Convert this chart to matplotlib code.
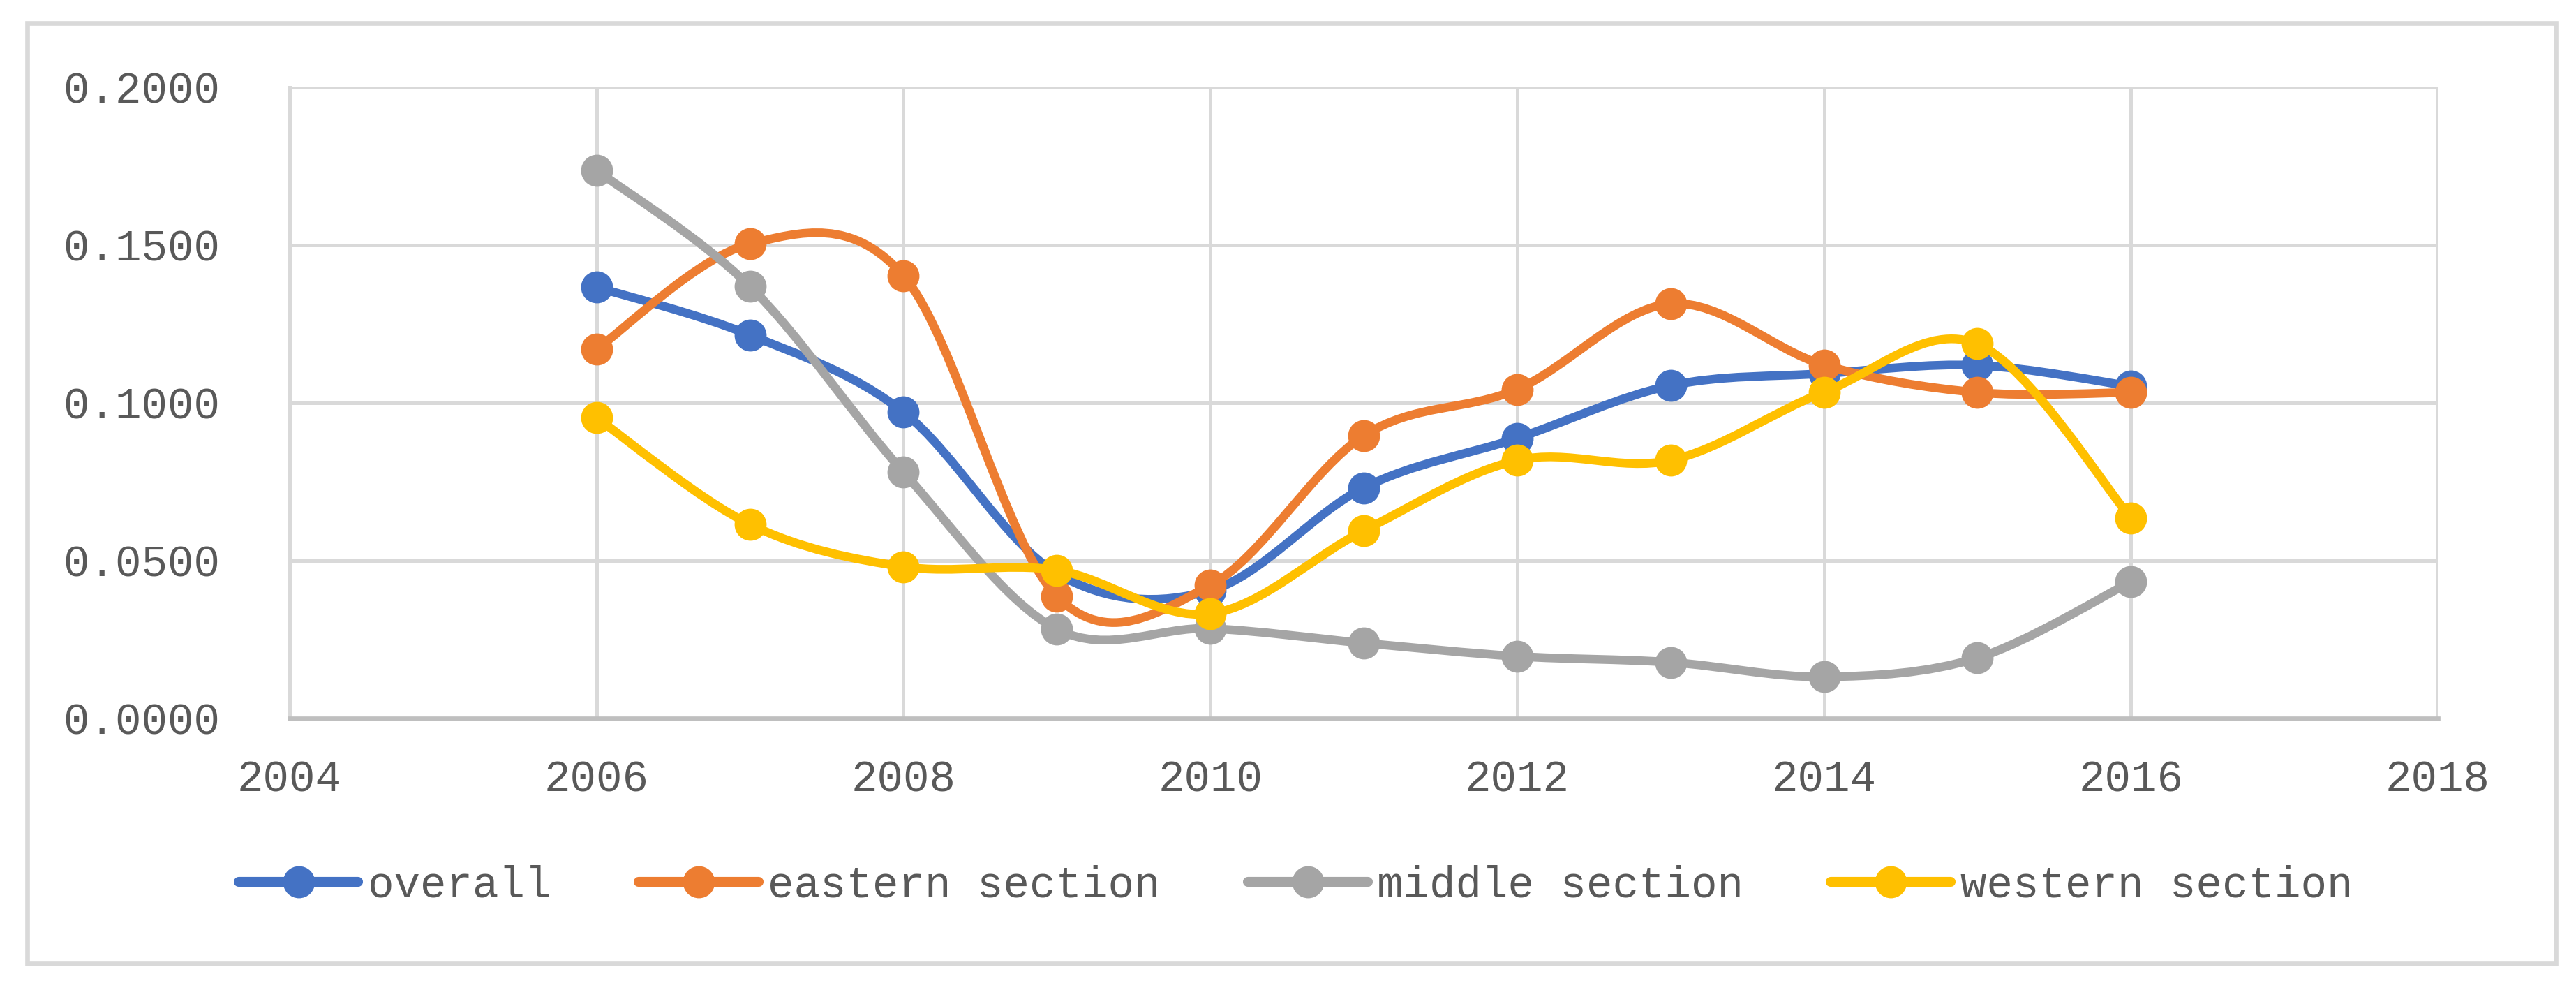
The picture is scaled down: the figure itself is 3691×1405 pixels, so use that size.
import numpy as np
import matplotlib
matplotlib.use("Agg")
import matplotlib.pyplot as plt
from matplotlib.path import Path
from matplotlib.patches import PathPatch, Rectangle
import matplotlib.lines as mlines
from matplotlib.ticker import FormatStrFormatter

# data
years = [2006, 2007, 2008, 2009, 2010, 2011, 2012, 2013, 2014, 2015, 2016]
overall = [0.1367, 0.1215, 0.0971, 0.0460, 0.0405, 0.0731, 0.0888, 0.1055, 0.1093, 0.1119, 0.1053]
eastern = [0.1170, 0.1504, 0.1403, 0.0387, 0.0422, 0.0896, 0.1043, 0.1314, 0.1120, 0.1033, 0.1033]
middle = [0.1737, 0.1369, 0.0781, 0.0283, 0.0285, 0.0239, 0.0197, 0.0178, 0.0132, 0.0192, 0.0433]
western = [0.0953, 0.0615, 0.0481, 0.0470, 0.0332, 0.0595, 0.0818, 0.0818, 0.1034, 0.1187, 0.0636]

labels = ["overall", "eastern section", "middle section", "western section"]
colors = ["#4472C4", "#ED7D31", "#A5A5A5", "#FFC000"]

text_color = "#595959"
font = "Liberation Mono"
fsize = 15
lw = 3.0
msize = 11

W, H = 3691, 1405
dpi = 300


# Excel style smoothed line: cubic bezier through every point (Catmull-Rom tangents)
def smooth_path(x, y):
    pts = np.column_stack([x, y]).astype(float)
    n = len(pts)
    verts = [pts[0]]
    codes = [Path.MOVETO]
    for i in range(n - 1):
        p_prev = pts[i - 1] if i > 0 else pts[i]
        p0 = pts[i]
        p1 = pts[i + 1]
        p_next = pts[i + 2] if i + 2 < n else pts[i + 1]
        c1 = p0 + (p1 - p_prev) / 6.0
        c2 = p1 - (p_next - p0) / 6.0
        verts += [c1, c2, p1]
        codes += [Path.CURVE4] * 3
    return Path(verts, codes)


plt.rcParams['font.family'] = [font, 'DejaVu Sans']
fig = plt.figure(figsize=(W / dpi, H / dpi), dpi=dpi)
ax = fig.add_axes([415 / W, 1 - 1029 / H, (3493 - 415) / W, (1029 - 125) / H])

series = [overall, eastern, middle, western]
handles = []
for k, (vals, name, col) in enumerate(zip(series, labels, colors)):
    z = 3 + k * 2
    patch = PathPatch(smooth_path(years, vals), facecolor='none', edgecolor=col,
                      lw=lw, capstyle='round', joinstyle='round', zorder=z)
    ax.add_patch(patch)
    ax.plot(years, vals, 'o', color=col, markersize=msize, markeredgewidth=0, zorder=z + 1)
    handles.append(mlines.Line2D([], [], color=col, lw=lw + 0.4, marker='o',
                                 markersize=msize, markeredgewidth=0,
                                 solid_capstyle='round', label=name))

ax.set_xlim(2004, 2018)
ax.set_ylim(0, 0.2)
ax.set_xticks(range(2004, 2019, 2))
ax.set_yticks([0, 0.05, 0.1, 0.15, 0.2])
ax.yaxis.set_major_formatter(FormatStrFormatter('%.4f'))

ax.grid(True, color="#D9D9D9", lw=1.2, zorder=0)
ax.set_axisbelow(True)
for side in ['top', 'right']:
    ax.spines[side].set_visible(False)
ax.spines['left'].set_color("#D9D9D9")
ax.spines['left'].set_linewidth(1.2)
ax.spines['bottom'].set_color("#BFBFBF")
ax.spines['bottom'].set_linewidth(1.6)

ax.tick_params(axis='x', length=0, pad=14, labelsize=fsize, labelcolor=text_color)
ax.tick_params(axis='y', length=0, pad=24, labelsize=fsize, labelcolor=text_color)

fig.legend(handles=handles, loc='center', bbox_to_anchor=(0.503, 1 - 1268 / H),
           ncol=4, frameon=False, handlelength=2.75, handletextpad=0.22,
           columnspacing=2.0, prop={'family': font, 'size': fsize},
           labelcolor=text_color)

# chart area border
fig.add_artist(Rectangle((39 / W, 1 - 1380 / H), (3662 - 39) / W, (1380 - 33) / H,
                         transform=fig.transFigure, fill=False,
                         edgecolor="#D9D9D9", lw=1.6))

fig.savefig("out.png", dpi=dpi, facecolor='white')
